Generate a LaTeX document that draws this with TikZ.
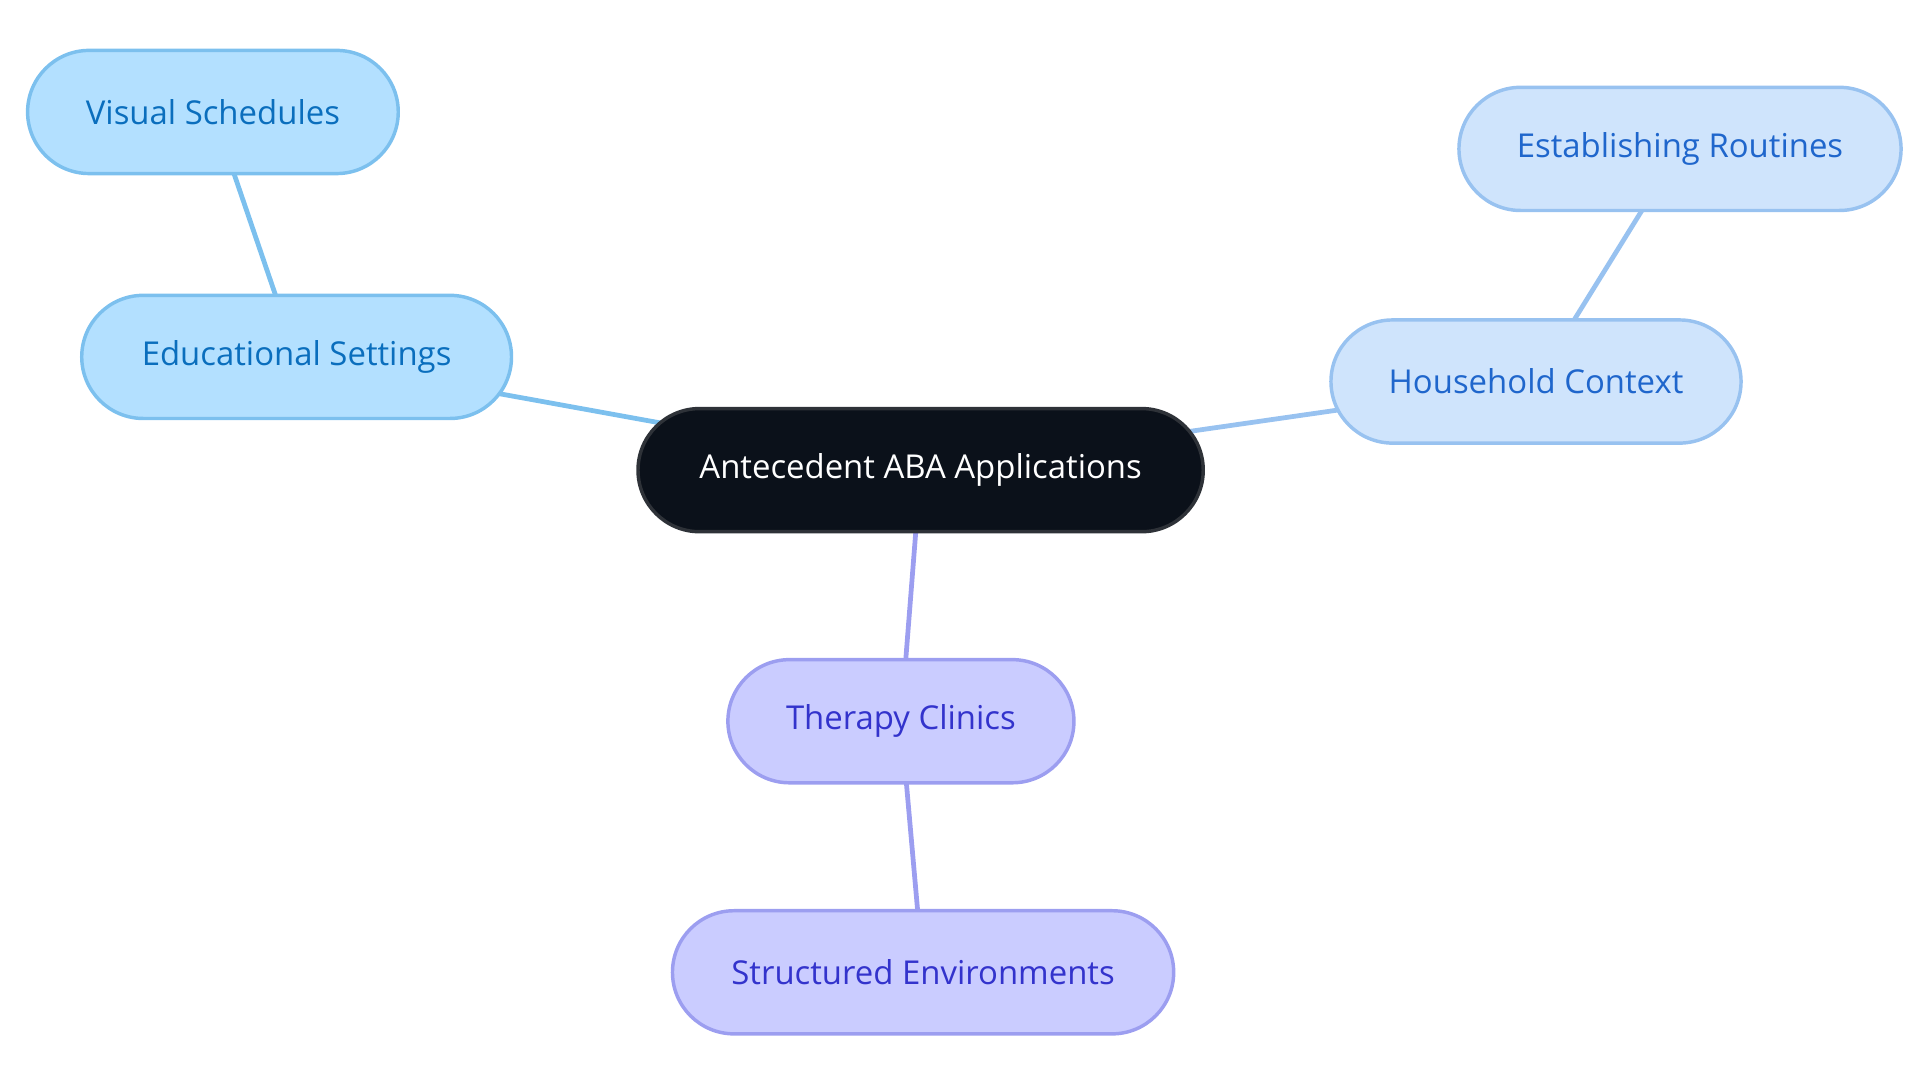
\documentclass[tikz,border=0pt]{standalone}
\usepackage{fontspec}
\setmainfont{Open Sans}
\usetikzlibrary{backgrounds}

\definecolor{rootfill}{HTML}{0B111A}
\definecolor{edufill}{HTML}{B3E0FF}
\definecolor{edudraw}{HTML}{7CC0EE}
\definecolor{edutext}{HTML}{0A6EBD}
\definecolor{homefill}{HTML}{CFE4FC}
\definecolor{homedraw}{HTML}{98C2F0}
\definecolor{hometext}{HTML}{1F66CC}
\definecolor{clinicfill}{HTML}{CACCFF}
\definecolor{clinicdraw}{HTML}{9C9EF0}
\definecolor{clinictext}{HTML}{3333CC}

\tikzset{
    pill/.style={draw,thick,rounded corners=0.5cm,minimum height=1cm,
                 font=\fontsize{7.6}{9}\selectfont,inner sep=0pt},
    root/.style={pill,fill=rootfill,draw=rootfill!70!gray,text=white},
    edu/.style={pill,fill=edufill,draw=edudraw,text=edutext},
    home/.style={pill,fill=homefill,draw=homedraw,text=hometext},
    clinic/.style={pill,fill=clinicfill,draw=clinicdraw,text=clinictext},
    link/.style={line width=1.1pt}
}

\begin{document}
\begin{tikzpicture}[x=0.01cm,y=-0.01cm]
\useasboundingbox (0,0) rectangle (1560,880);

\node[root,minimum width=4.59cm]   (root)      at (748,382) {Antecedent ABA Applications};
\node[edu,minimum width=3.49cm]    (edu)       at (241,290) {Educational Settings};
\node[edu,minimum width=3.01cm]    (visual)    at (173,91)  {Visual Schedules};
\node[home,minimum width=3.33cm]   (home)      at (1248,310) {Household Context};
\node[home,minimum width=3.59cm]   (routines)  at (1365,121) {Establishing Routines};
\node[clinic,minimum width=2.81cm] (clinic)    at (732,586) {Therapy Clinics};
\node[clinic,minimum width=4.07cm] (structure) at (750,790) {Structured Environments};

\begin{scope}[on background layer]
    \draw[link,edudraw]    (root.center) -- (edu.center);
    \draw[link,edudraw]    (edu.center) -- (visual.center);
    \draw[link,homedraw]   (root.center) -- (home.center);
    \draw[link,homedraw]   (home.center) -- (routines.center);
    \draw[link,clinicdraw] (root.center) -- (clinic.center);
    \draw[link,clinicdraw] (clinic.center) -- (structure.center);
\end{scope}
\end{tikzpicture}
\end{document}
